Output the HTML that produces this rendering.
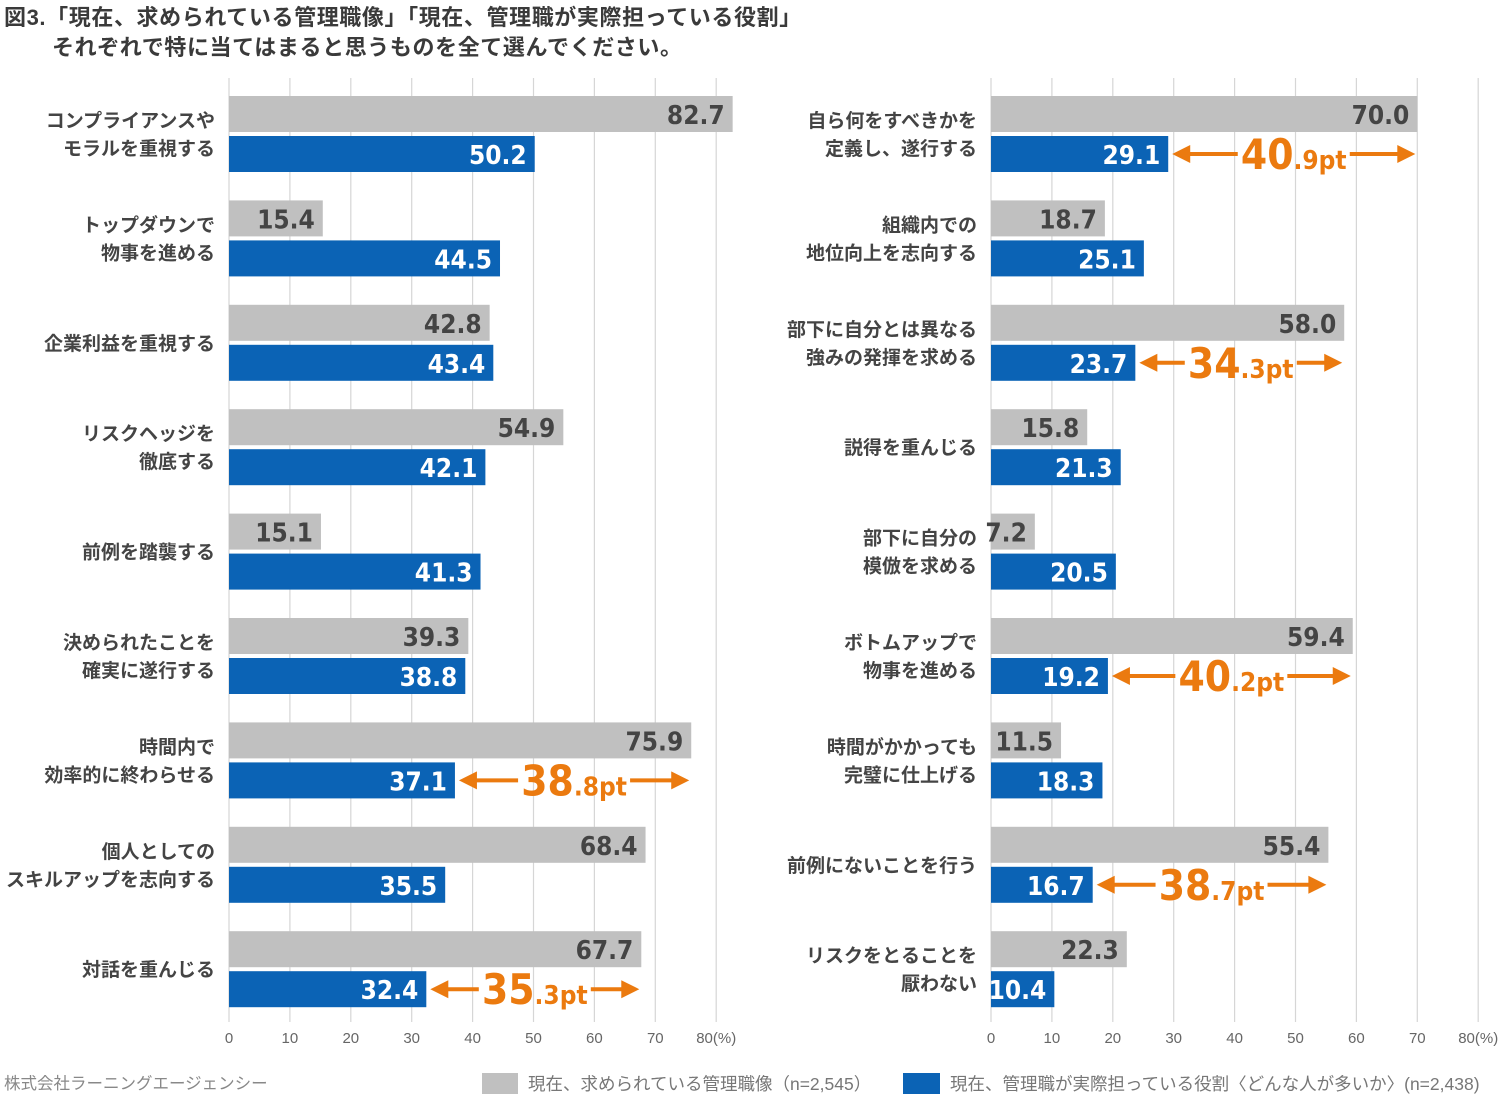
<!DOCTYPE html>
<html><head><meta charset="utf-8"><style>
body{margin:0;background:#fff;}
svg{display:block;font-family:"Liberation Sans","Noto Sans CJK JP",sans-serif;}
.num{font-family:"DejaVu Sans Condensed","Liberation Sans Narrow","Liberation Sans",sans-serif;font-weight:bold;}
</style></head><body>
<svg id="chart" width="1500" height="1109" viewBox="0 0 1500 1109">
<text x="4" y="25" font-size="22" font-weight="bold" letter-spacing="0.6" fill="#3a3a3a">図3.「現在、求められている管理職像」「現在、管理職が実際担っている役割」</text>
<text x="52" y="55" font-size="22" font-weight="bold" letter-spacing="0.6" fill="#3a3a3a">それぞれで特に当てはまると思うものを全て選んでください。</text>
<text x="4" y="1089" font-size="16.5" fill="#888">株式会社ラーニングエージェンシー</text>
<rect x="482" y="1073" width="36" height="21" fill="#c0c0c0"/>
<text x="528" y="1090" font-size="17.5" fill="#777">現在、求められている管理職像（n=2,545）</text>
<rect x="903" y="1073" width="37" height="21" fill="#0b63b5"/>
<text x="950" y="1090" font-size="17.5" fill="#777">現在、管理職が実際担っている役割〈どんな人が多いか〉(n=2,438)</text>
<g id="plots"></g>
</svg>
<script>
const leftCategories=[["コンプライアンスや","モラルを重視する"],["トップダウンで","物事を進める"],["企業利益を重視する"],["リスクヘッジを","徹底する"],["前例を踏襲する"],["決められたことを","確実に遂行する"],["時間内で","効率的に終わらせる"],["個人としての","スキルアップを志向する"],["対話を重んじる"]];
const leftIdeal=[82.7,15.4,42.8,54.9,15.1,39.3,75.9,68.4,67.7];
const leftActual=[50.2,44.5,43.4,42.1,41.3,38.8,37.1,35.5,32.4];
const leftGaps=[null,null,null,null,null,null,"38.8",null,"35.3"];
const rightCategories=[["自ら何をすべきかを","定義し、遂行する"],["組織内での","地位向上を志向する"],["部下に自分とは異なる","強みの発揮を求める"],["説得を重んじる"],["部下に自分の","模倣を求める"],["ボトムアップで","物事を進める"],["時間がかかっても","完璧に仕上げる"],["前例にないことを行う"],["リスクをとることを","厭わない"]];
const rightIdeal=[70.0,18.7,58.0,15.8,7.2,59.4,11.5,55.4,22.3];
const rightActual=[29.1,25.1,23.7,21.3,20.5,19.2,18.3,16.7,10.4];
const rightGaps=["40.9",null,"34.3",null,null,"40.2",null,"38.7",null];
const ticks=[0,10,20,30,40,50,60,70,80];
const NS="http://www.w3.org/2000/svg";
const root=document.getElementById('plots');
function mk(tag,attrs,parent){const e=document.createElementNS(NS,tag);for(const k in attrs)e.setAttribute(k,attrs[k]);(parent||root).appendChild(e);return e;}
function drawPanel(side,x0,cats,ideal,actual,gaps){
  const sx=v=>x0+v*6.09;
  const yTop=i=>96+i*104.4;
  const g=mk('g',{});
  
  
  ticks.forEach(t=>{
    const l=mk('line',{x1:sx(t),x2:sx(t),y1:78,y2:1022,stroke:'#d6d6d6','stroke-width':1.2},g);
    
    
    const tx=mk('text',{x:sx(t),y:1043,'font-size':15,fill:'#666','text-anchor':'middle'},g);
    tx.textContent=t===80?'80(%)':String(t);
    
    
  });
  cats.forEach((c,i)=>{
    const y=yTop(i),cy=y+38;
    c.forEach((line,j)=>{
      const t=mk('text',{x:x0-14,y:cy+(c.length===1?0:(j===0?-14:14))+7,'font-size':19,'font-weight':'bold',fill:'#444','text-anchor':'end'},g);
      t.textContent=line;
      
      
    });
    const b1=mk('rect',{x:x0,y:y,width:sx(ideal[i])-x0,height:36,fill:'#c0c0c0'},g);
    
    
    const v1=mk('text',{x:sx(ideal[i])-8,y:y+28,'font-size':26,fill:'#444','text-anchor':'end',class:'num'},g);
    v1.textContent=ideal[i].toFixed(1);
    
    
    const b2=mk('rect',{x:x0,y:y+40,width:sx(actual[i])-x0,height:36,fill:'#0b63b5'},g);
    
    
    const v2=mk('text',{x:sx(actual[i])-8,y:y+68,'font-size':26,fill:'#fff','text-anchor':'end',class:'num'},g);
    v2.textContent=actual[i].toFixed(1);
    
    
    if(gaps[i]){
      const a=sx(actual[i])+4,b=sx(ideal[i])-2,m=(a+b)/2,ay=y+58;
      const ag=mk('g',{},g);
      
      
      mk('line',{x1:a+14,x2:m-56,y1:ay,y2:ay,stroke:'#eb7a0f','stroke-width':4},ag);
      mk('line',{x1:m+56,x2:b-14,y1:ay,y2:ay,stroke:'#eb7a0f','stroke-width':4},ag);
      mk('polygon',{points:`${a},${ay} ${a+18},${ay-9} ${a+18},${ay+9}`,fill:'#eb7a0f'},ag);
      mk('polygon',{points:`${b},${ay} ${b-18},${ay-9} ${b-18},${ay+9}`,fill:'#eb7a0f'},ag);
      const parts=gaps[i].split('.');
      const t=mk('text',{x:m,y:ay+15,fill:'#eb7a0f','text-anchor':'middle',class:'num'},ag);
      const s1=mk('tspan',{'font-size':42},t);s1.textContent=parts[0];
      const s2=mk('tspan',{'font-size':26},t);s2.textContent='.'+parts[1]+'pt';
    }
  });
}
drawPanel('left',229,leftCategories,leftIdeal,leftActual,leftGaps);
drawPanel('right',991,rightCategories,rightIdeal,rightActual,rightGaps);
</script>
</body></html>
